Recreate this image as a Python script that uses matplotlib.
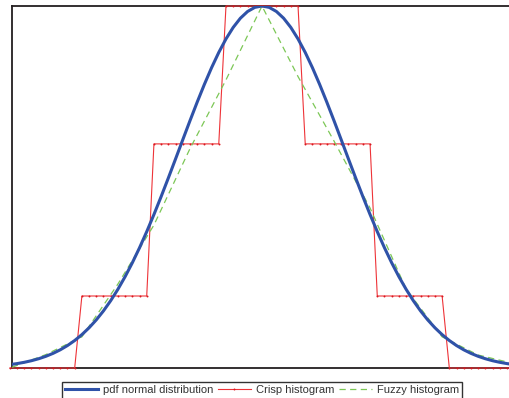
import numpy as np
import matplotlib
matplotlib.use("Agg")
import matplotlib.pyplot as plt

plt.rcParams['font.family'] = ['Liberation Sans', 'DejaVu Sans']

# ---- data ----
sigma = 1.145                      # std of the normal distribution
x_grid = np.round(np.arange(-3.5, 3.5001, 0.1), 2)   # sampling grid of the plotted curves
crisp_edges = [-2.52, -1.52, -0.52, 0.52, 1.52, 2.52]   # inner bin edges of crisp histogram
crisp_heights = [0.0, 0.0693, 0.2157, 0.3484, 0.2157, 0.0693, 0.0]  # bin heights (density)
fuzzy_x = [-3.47, -3.0, -2.5, -2.0, -1.5, -1.0, -0.5, 0.0, 0.5, 1.0, 1.5, 2.0, 2.5, 3.0, 3.44]
fuzzy_y = [0.0007, 0.0129, 0.0300, 0.0808, 0.1376, 0.2111, 0.2773, 0.3484,
           0.2805, 0.2184, 0.1540, 0.0760, 0.0300, 0.0125, 0.0052]
labels = ["pdf normal distribution", "Crisp histogram", "Fuzzy histogram"]

# ---- derived series ----
pdf = np.exp(-x_grid**2 / (2 * sigma**2)) / (sigma * np.sqrt(2 * np.pi))
crisp = np.array(crisp_heights)[np.searchsorted(crisp_edges, x_grid)]
peak = 1 / (sigma * np.sqrt(2 * np.pi))

fig = plt.figure(figsize=(5.10, 3.98), dpi=100)
ax = fig.add_axes([12 / 510, 30 / 398, 500 / 510, 362 / 398])

l1, = ax.plot(x_grid, pdf, color='#2f52a8', lw=2.2, zorder=5, label=labels[0])
l2, = ax.plot(x_grid, crisp, color='#ee3338', lw=0.8, marker='.', markersize=2.8,
              markeredgewidth=0, markerfacecolor='#d8181f', zorder=3, clip_on=False,
              label=labels[1])
l3, = ax.plot(fuzzy_x, fuzzy_y, color='#7cc756', lw=0.9, linestyle=(0, (5, 3.5)),
              zorder=4, label=labels[2])

ax.set_xlim(-3.47, 3.47)
ax.set_ylim(0, peak)
ax.set_xticks([])
ax.set_yticks([])
for s in ax.spines.values():
    s.set_color('#231f20')
    s.set_linewidth(1.3)
ax.spines['right'].set_visible(False)

leg = fig.legend(handles=[l1, l2, l3], loc='upper center',
                 bbox_to_anchor=(262 / 510, 1 - 382 / 398), ncol=3,
                 fontsize=8, frameon=True, fancybox=False, edgecolor='black',
                 handlelength=2.95, handletextpad=0.45, columnspacing=0.45,
                 borderpad=0.3, borderaxespad=0)
leg.get_frame().set_linewidth(1.0)
for t in leg.get_texts():
    t.set_color('#333333')

fig.savefig('out.png', dpi=100)
